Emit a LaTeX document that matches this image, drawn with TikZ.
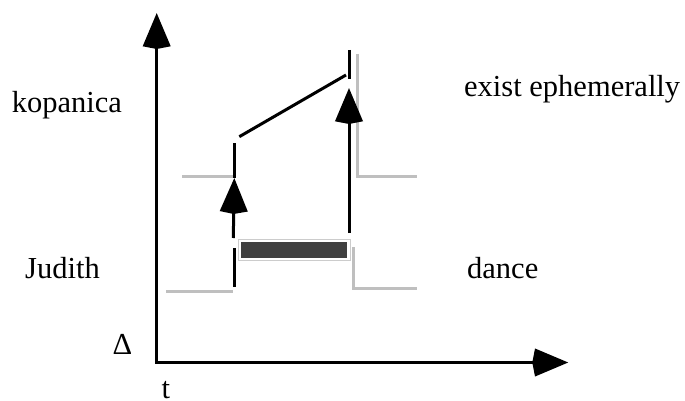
\documentclass[tikz,border=0pt]{standalone}
\usepackage{fontspec}
\setmainfont{Liberation Serif}
\usetikzlibrary{arrows.meta}
\begin{document}
\begin{tikzpicture}[x=1pt,y=-1pt,
  lbl/.style={anchor=base west,inner sep=0pt,font=\fontsize{30.5}{36}\selectfont},
  blk/.style={line width=3pt,black},
  gry/.style={line width=3pt,color=gray!50},
  bigarrow/.style={blk,-{Stealth[length=33pt,width=27pt,inset=-3pt]}}]
\useasboundingbox (0,0) rectangle (685,401);
% axes
\coordinate (O) at (156.7,362.5);
\coordinate (Ytop) at (156.7,13);
\coordinate (Xend) at (568.3,362.5);
\draw[bigarrow] (O) -- (Ytop);
\draw[bigarrow] ([xshift=-1.5pt]O) -- (Xend);
% gray state lines
\coordinate (g1a) at (166,291);
\coordinate (g1b) at (233,291);
\coordinate (g2a) at (182,176);
\coordinate (g2b) at (233,176);
\coordinate (g3a) at (357.7,54);
\coordinate (g3b) at (357.7,176);
\coordinate (g3c) at (416.7,176);
\coordinate (g4a) at (353.3,247);
\coordinate (g4b) at (353.3,288);
\coordinate (g4c) at (416.7,288);
\draw[gry] (g1a) -- (g1b);
\draw[gry] (g2a) -- (g2b);
\draw[gry] (g3a) -- (g3b) -- (g3c);
\draw[gry] (g4a) -- (g4b) -- (g4c);
% black lines
\coordinate (b1a) at (234,248);
\coordinate (b1b) at (234,287);
\coordinate (b2a) at (234,143);
\coordinate (b2b) at (234,178);
\coordinate (s1) at (239.3,136.7);
\coordinate (s2) at (346,75);
\coordinate (b3a) at (349,50);
\coordinate (b3b) at (349,79);
\draw[blk] (b1a) -- (b1b);
\draw[blk] (b2a) -- (b2b);
\draw[blk] (s1) -- (s2);
\draw[blk] (b3a) -- (b3b);
% arrows
\coordinate (a1s) at (233.3,238);
\coordinate (a1t) at (234.3,178);
\coordinate (a2s) at (349,233);
\coordinate (a2t) at (349,88);
\draw[bigarrow] (a1s) -- (a1t);
\draw[bigarrow] (a2s) -- (a2t);
% bar
\node[draw=gray!40,line width=1pt,inner sep=0pt,minimum width=111.7pt,minimum height=21.7pt] (barout) at (294.15,249.85) {};
\node[fill=black!75,inner sep=0pt,minimum width=106.6pt,minimum height=15.4pt] (barin) at (294,250) {};
% labels
\node[lbl] (kop) at (11.7,113) {kopanica};
\node[lbl] (exi) at (464,96.7) {exist ephemerally};
\node[lbl] (jud) at (25,278.3) {Judith};
\node[lbl] (dan) at (467,278.3) {dance};
\node[lbl] (del) at (112.5,354) {Δ};
\node[lbl] (tt) at (161.5,398.5) {t};
\end{tikzpicture}
\end{document}
